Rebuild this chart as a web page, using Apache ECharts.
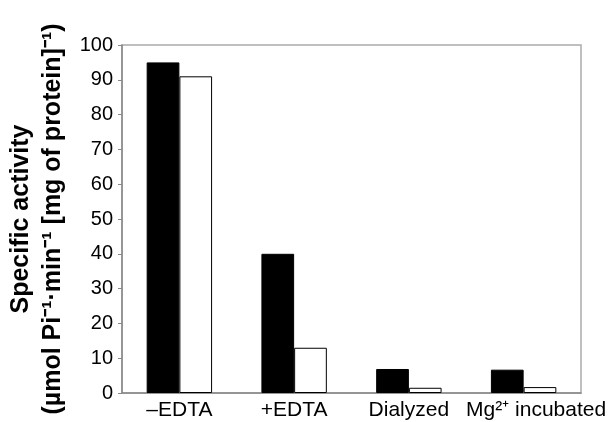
<!DOCTYPE html>
<html>
<head>
<meta charset="utf-8">
<script src="https://cdn.jsdelivr.net/npm/echarts@6/dist/echarts.min.js"></script>
<style>html,body{margin:0;padding:0;background:#fff;}#c{width:609px;height:422px;}</style>
</head>
<body>
<div id="c"></div>
<script>
const categories = ['–EDTA', '+EDTA', 'Dialyzed', 'Mg²⁺ incubated'];
const blackValues = [95, 40, 6.9, 6.7];
const whiteValues = [91, 13, 1.5, 1.7];
const yTicks = [0, 100, 10];

const categoryData = categories.map((c, i) =>
  i === categories.length - 1 ? { value: c, textStyle: { padding: [0, 0, 0, 25] } } : c);

const chart = echarts.init(document.getElementById('c'));
chart.setOption({
  animation: false,
  backgroundColor: '#fff',
  grid: { left: 122, right: 28, top: 45, bottom: 29, containLabel: false, outerBoundsMode: 'none',
          show: true, borderColor: '#aaa', borderWidth: 1.5 },
  xAxis: {
    type: 'category',
    data: categoryData,
    axisLine: { lineStyle: { color: '#888', width: 1.5 } },
    axisTick: { show: false },
    axisLabel: { color: '#000', fontSize: 21, fontFamily: 'Liberation Sans, Arial', margin: 7, interval: 0, hideOverlap: false }
  },
  yAxis: {
    type: 'value',
    min: yTicks[0], max: yTicks[1], interval: yTicks[2],
    splitLine: { show: false },
    axisLine: { show: true, lineStyle: { color: '#888', width: 1.5 } },
    axisTick: { show: true, length: 4, lineStyle: { color: '#888' } },
    axisLabel: { color: '#000', fontSize: 20, fontFamily: 'Liberation Sans, Arial', margin: 9 },
    name: 'Specific activity\n(µmol Pi⁻¹·min⁻¹ [mg of protein]⁻¹)',
    nameLocation: 'middle',
    nameRotate: 90,
    nameGap: 52,
    nameTextStyle: { color: '#000', fontSize: 25, fontWeight: 'bold', fontFamily: 'Liberation Sans, Arial', lineHeight: 32 }
  },
  series: [
    { type: 'bar', data: blackValues, barGap: '0%', barCategoryGap: '43%',
      itemStyle: { color: '#000', borderColor: '#000', borderWidth: 1 } },
    { type: 'bar', data: whiteValues,
      itemStyle: { color: '#fff', borderColor: '#000', borderWidth: 1 } }
  ]
});
</script>
</body>
</html>
